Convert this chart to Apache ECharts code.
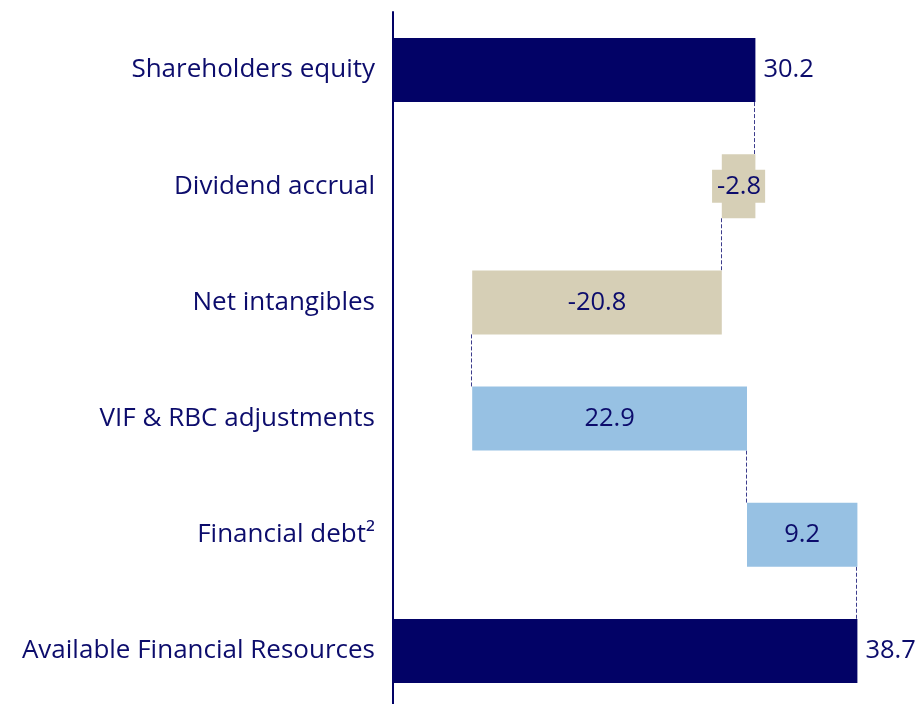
<!DOCTYPE html>
<html>
<head>
<meta charset="utf-8">
<script src="https://cdn.jsdelivr.net/npm/echarts@6/dist/echarts.min.js"></script>
<style>
  html, body { margin: 0; padding: 0; background: #ffffff; overflow: hidden; }
  #chart { width: 920px; height: 704px; }
</style>
</head>
<body>
<div id="chart"></div>
<script>
// Bridge from shareholders equity to available financial resources
const categories = [
  'Shareholders equity',
  'Dividend accrual',
  'Net intangibles',
  'VIF & RBC adjustments',
  'Financial debt\u00B2',
  'Available Financial Resources'
];
const changes = [30.2, -2.8, -20.8, 22.9, 9.2, 38.7];
const isTotal = [true, false, false, false, false, true];

const NAVY = '#020266';
const BEIGE = '#d6cfb6';
const LIGHT_BLUE = '#97c1e3';
const TEXT = '#0c0c6c';
const FONT = '"Open Sans", "Noto Sans", sans-serif';

// running totals: floating offset and visible length of every bar
const bases = [];
const lengths = [];
const ends = [];
let running = 0;
changes.forEach((v, i) => {
  if (isTotal[i]) {
    bases.push(0);
    lengths.push(v);
    running = v;
  } else {
    const start = running;
    const end = running + v;
    bases.push(Math.min(start, end));
    lengths.push(Math.abs(v));
    running = end;
  }
  ends.push(running);
});

const colors = changes.map((v, i) => isTotal[i] ? NAVY : (v < 0 ? BEIGE : LIGHT_BLUE));

const BAR_WIDTH = 64;

const barData = lengths.map((len, i) => {
  const item = { value: len, itemStyle: { color: colors[i] } };
  if (isTotal[i]) {
    item.label = { position: 'right', distance: 8 };
  } else if (Math.abs(changes[i]) < 5) {
    item.label = {
      position: 'inside',
      backgroundColor: colors[i],
      padding: [4, 4, 3, 5]
    };
  }
  return item;
});

// connector lines between consecutive bars, at the running total
const connectorData = ends.slice(0, -1).map((t, i) => [t, i]);

const chart = echarts.init(document.getElementById('chart'), null, { renderer: 'canvas' });
chart.setOption({
  animation: false,
  backgroundColor: '#ffffff',
  textStyle: { fontFamily: FONT },
  grid: {
    left: 393, top: 12, width: 480, height: 697,
    containLabel: false,
    outerBoundsMode: 'none'
  },
  xAxis: {
    type: 'value',
    min: 0,
    max: 40,
    show: false
  },
  yAxis: {
    type: 'category',
    inverse: true,
    data: categories,
    axisLine: { show: true, lineStyle: { color: NAVY, width: 2 } },
    axisTick: { show: false },
    axisLabel: {
      color: TEXT,
      fontSize: 26,
      fontFamily: FONT,
      margin: 18
    }
  },
  series: [
    {
      type: 'bar',
      stack: 'bridge',
      data: bases,
      barWidth: BAR_WIDTH,
      itemStyle: { color: 'transparent' },
      emphasis: { disabled: true },
      silent: true
    },
    {
      type: 'bar',
      stack: 'bridge',
      data: barData,
      barWidth: BAR_WIDTH,
      label: {
        show: true,
        position: 'inside',
        color: TEXT,
        fontSize: 25.5,
        fontFamily: FONT,
        formatter: p => changes[p.dataIndex].toFixed(1)
      }
    },
    {
      type: 'custom',
      data: connectorData,
      silent: true,
      z: 1,
      renderItem: (params, api) => {
        const x = api.value(0);
        const idx = api.value(1);
        const p1 = api.coord([x, idx]);
        const p2 = api.coord([x, idx + 1]);
        const half = BAR_WIDTH / 2;
        return {
          type: 'line',
          shape: { x1: Math.round(p1[0]) - 0.5, y1: p1[1] + half, x2: Math.round(p2[0]) - 0.5, y2: p2[1] - half },
          style: { stroke: '#3c3c8c', lineWidth: 1, lineDash: [4, 2] }
        };
      }
    }
  ]
});
</script>
</body>
</html>
